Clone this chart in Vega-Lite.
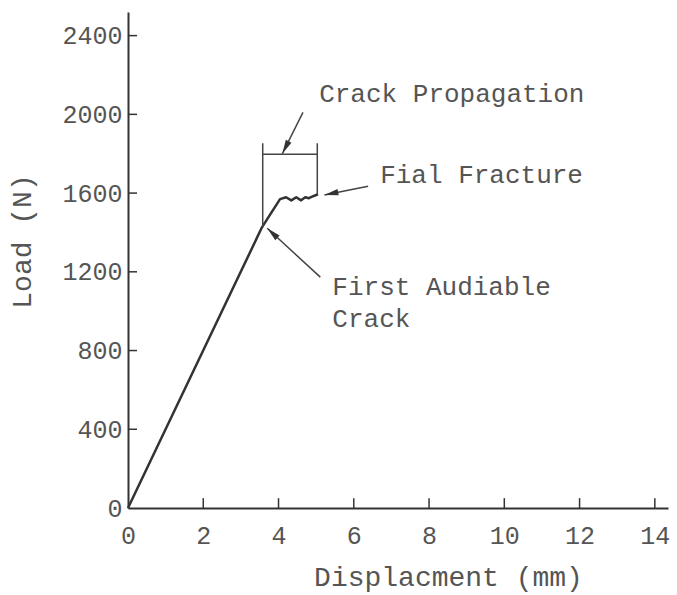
{
  "$schema": "https://vega.github.io/schema/vega-lite/v6.json",
  "autosize": {"type": "none"},
  "padding": {"left": 128, "top": 12, "right": 9, "bottom": 87},
  "width": 540,
  "height": 496,
  "background": "white",
  "config": {
    "view": {"stroke": null},
    "font": "Liberation Mono",
    "axis": {"grid": false}
  },
  "datasets": {
    "curve": [
      {"d": 0, "load": 0},
      {"d": 3.56, "load": 1426},
      {"d": 3.78, "load": 1492},
      {"d": 4.04, "load": 1569},
      {"d": 4.2, "load": 1579},
      {"d": 4.34, "load": 1563},
      {"d": 4.47, "load": 1579},
      {"d": 4.6, "load": 1563},
      {"d": 4.71, "load": 1579},
      {"d": 4.81, "load": 1574},
      {"d": 4.92, "load": 1584},
      {"d": 5.05, "load": 1594}
    ],
    "yticks": [
      {"x": 0, "x2": 0.24, "y": 400},
      {"x": 0, "x2": 0.24, "y": 800},
      {"x": 0, "x2": 0.24, "y": 1200},
      {"x": 0, "x2": 0.24, "y": 1600},
      {"x": 0, "x2": 0.24, "y": 2000},
      {"x": 0, "x2": 0.24, "y": 2400}
    ],
    "xticks": [
      {"x": 2, "y": 0, "y2": 50},
      {"x": 4, "y": 0, "y2": 50},
      {"x": 6, "y": 0, "y2": 50},
      {"x": 8, "y": 0, "y2": 50},
      {"x": 10, "y": 0, "y2": 50},
      {"x": 12, "y": 0, "y2": 50},
      {"x": 14, "y": 0, "y2": 50}
    ],
    "bracket": [
      {"x": 3.58, "y": 1853, "x2": 3.58, "y2": 1426},
      {"x": 5.03, "y": 1853, "x2": 5.03, "y2": 1594},
      {"x": 3.58, "y": 1797, "x2": 5.03, "y2": 1797}
    ],
    "arrows": [
      {"name": "prop", "x": 4.65, "y": 2010, "x2": 4.1, "y2": 1800},
      {"name": "final", "x": 6.38, "y": 1635, "x2": 5.22, "y2": 1590},
      {"name": "first", "x": 5.11, "y": 1173, "x2": 3.7, "y2": 1421}
    ],
    "labels": [
      {"x": 5.08, "y": 2061, "text": "Crack Propagation"},
      {"x": 6.7, "y": 1650, "text": "Fial Fracture"},
      {"x": 5.43, "y": 1081, "text": "First Audiable"},
      {"x": 5.43, "y": 919, "text": "Crack"}
    ]
  },
  "layer": [
    {
      "data": {"name": "curve"},
      "mark": {"type": "line", "color": "#333", "strokeWidth": 2.5, "strokeJoin": "round"},
      "encoding": {
        "x": {
          "field": "d", "type": "quantitative",
          "scale": {"domain": [0, 14.35], "nice": false, "zero": false},
          "axis": {
            "values": [0, 2, 4, 6, 8, 10, 12, 14],
            "format": "d",
            "title": "Displacment (mm)",
            "titleFont": "Liberation Mono", "titleFontSize": 28, "titleFontWeight": "normal",
            "titleColor": "#555",
            "titleX": 320, "titleY": 69, "titleAlign": "center", "titleBaseline": "middle",
            "labelFont": "Liberation Mono", "labelFontSize": 25, "labelColor": "#555",
            "labelBaseline": "top", "labelPadding": 15, "labelFlush": false,
            "labelOverlap": false,
            "domainColor": "#333", "domainWidth": 2,
            "ticks": false
          }
        },
        "y": {
          "field": "load", "type": "quantitative",
          "scale": {"domain": [0, 2520], "nice": false, "zero": false},
          "axis": {
            "values": [0, 400, 800, 1200, 1600, 2000, 2400],
            "format": "d",
            "title": "Load (N)",
            "titleFont": "Liberation Mono", "titleFontSize": 28, "titleFontWeight": "normal",
            "titleColor": "#555",
            "titleX": -106, "titleY": 229, "titleAlign": "center", "titleBaseline": "middle",
            "titleAngle": -90,
            "labelFont": "Liberation Mono", "labelFontSize": 25, "labelColor": "#555",
            "labelPadding": 6, "labelFlush": false, "labelOverlap": false,
            "domainColor": "#333", "domainWidth": 2,
            "ticks": false
          }
        }
      }
    },
    {
      "data": {"name": "yticks"},
      "mark": {"type": "rule", "color": "#333", "strokeWidth": 1.5},
      "encoding": {
        "x": {"field": "x", "type": "quantitative"},
        "x2": {"field": "x2"},
        "y": {"field": "y", "type": "quantitative"}
      }
    },
    {
      "data": {"name": "xticks"},
      "mark": {"type": "rule", "color": "#333", "strokeWidth": 1.5},
      "encoding": {
        "x": {"field": "x", "type": "quantitative"},
        "y": {"field": "y", "type": "quantitative"},
        "y2": {"field": "y2"}
      }
    },
    {
      "data": {"name": "bracket"},
      "mark": {"type": "rule", "color": "#444", "strokeWidth": 1.5},
      "encoding": {
        "x": {"field": "x", "type": "quantitative"},
        "y": {"field": "y", "type": "quantitative"},
        "x2": {"field": "x2"},
        "y2": {"field": "y2"}
      }
    },
    {
      "data": {"name": "arrows"},
      "mark": {"type": "rule", "color": "#444", "strokeWidth": 1.5},
      "encoding": {
        "x": {"field": "x", "type": "quantitative"},
        "y": {"field": "y", "type": "quantitative"},
        "x2": {"field": "x2"},
        "y2": {"field": "y2"}
      }
    },
    {
      "data": {"name": "arrows"},
      "transform": [{"filter": "datum.name === 'prop'"}],
      "mark": {"type": "point", "shape": "M0,0L0.45,2L-0.45,2Z", "filled": true, "color": "#333", "opacity": 1, "size": 196, "angle": 207},
      "encoding": {
        "x": {"field": "x2", "type": "quantitative"},
        "y": {"field": "y2", "type": "quantitative"}
      }
    },
    {
      "data": {"name": "arrows"},
      "transform": [{"filter": "datum.name === 'final'"}],
      "mark": {"type": "point", "shape": "M0,0L0.45,2L-0.45,2Z", "filled": true, "color": "#333", "opacity": 1, "size": 196, "angle": 258},
      "encoding": {
        "x": {"field": "x2", "type": "quantitative"},
        "y": {"field": "y2", "type": "quantitative"}
      }
    },
    {
      "data": {"name": "arrows"},
      "transform": [{"filter": "datum.name === 'first'"}],
      "mark": {"type": "point", "shape": "M0,0L0.45,2L-0.45,2Z", "filled": true, "color": "#333", "opacity": 1, "size": 196, "angle": 313},
      "encoding": {
        "x": {"field": "x2", "type": "quantitative"},
        "y": {"field": "y2", "type": "quantitative"}
      }
    },
    {
      "data": {"name": "labels"},
      "mark": {"type": "text", "font": "Liberation Mono", "fontSize": 26, "color": "#555", "align": "left", "baseline": "alphabetic"},
      "encoding": {
        "x": {"field": "x", "type": "quantitative"},
        "y": {"field": "y", "type": "quantitative"},
        "text": {"field": "text"}
      }
    }
  ]
}
